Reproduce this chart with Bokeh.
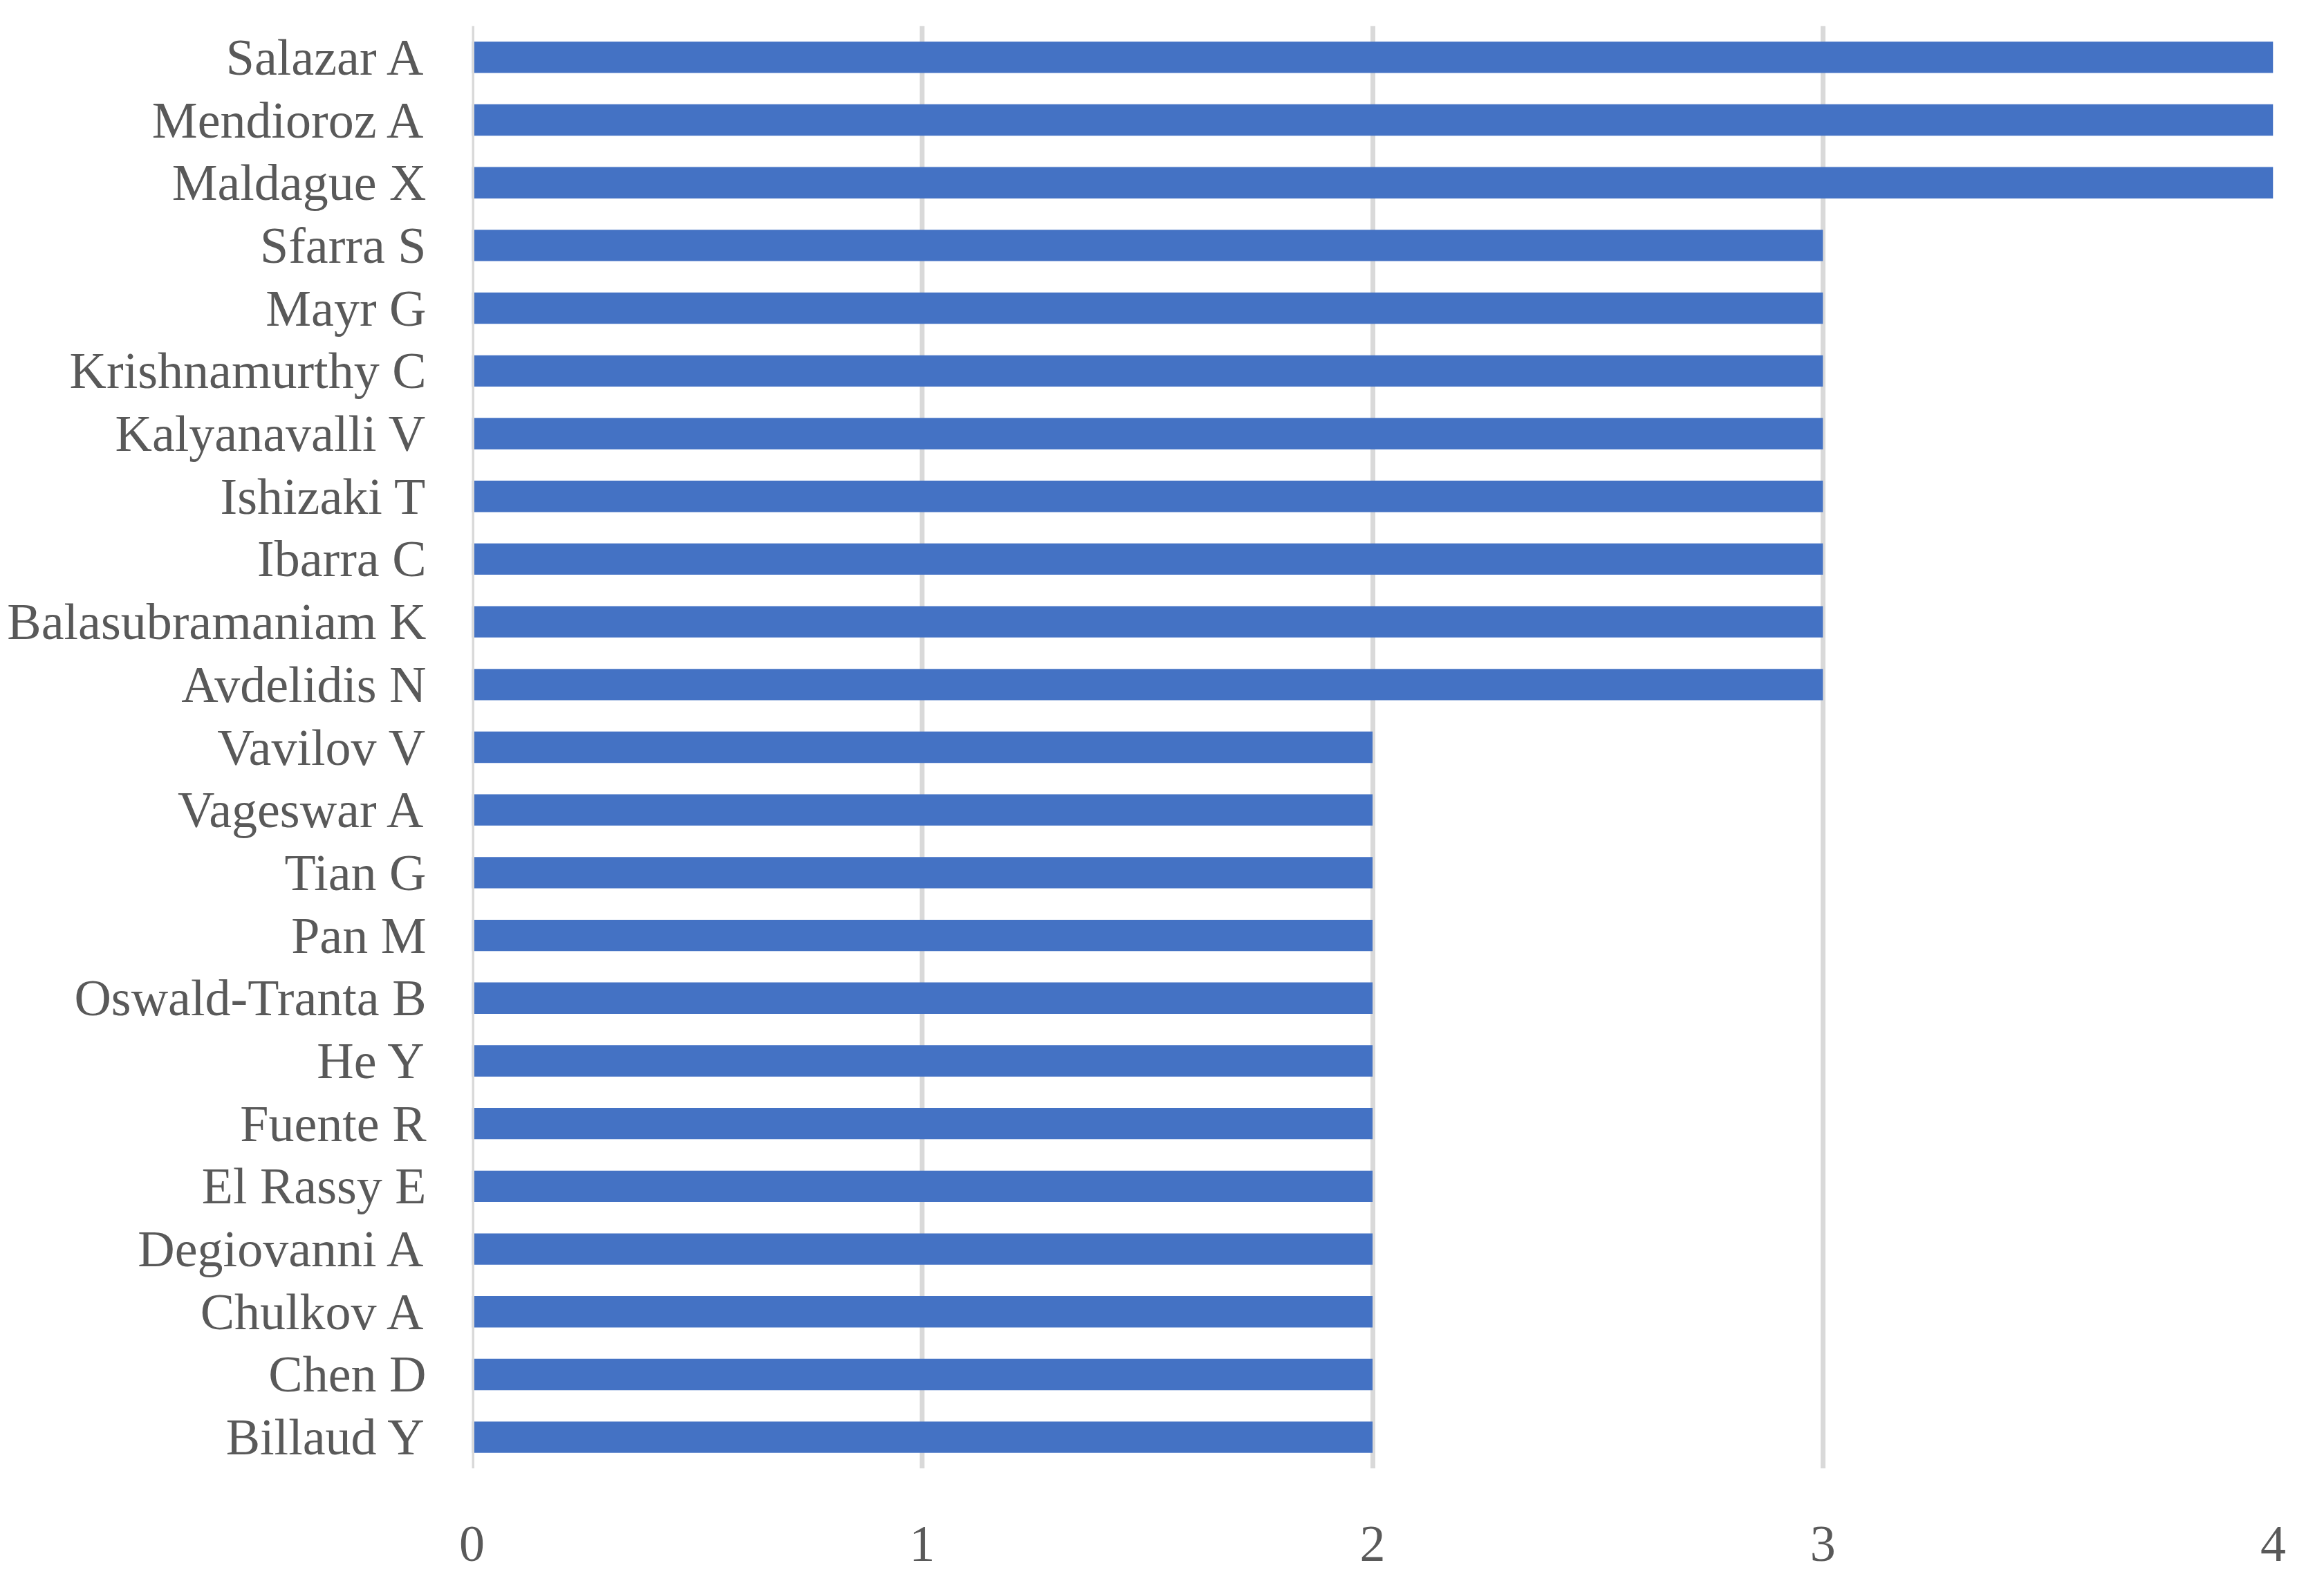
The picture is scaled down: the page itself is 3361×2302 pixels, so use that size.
from bokeh.plotting import figure
from bokeh.models import Range1d, FactorRange, FixedTicker, Span
from bokeh.embed import file_html
from bokeh.resources import INLINE

authors = ["Salazar A", "Mendioroz A", "Maldague X", "Sfarra S", "Mayr G",
           "Krishnamurthy C", "Kalyanavalli V", "Ishizaki T", "Ibarra C",
           "Balasubramaniam K", "Avdelidis N", "Vavilov V", "Vageswar A",
           "Tian G", "Pan M", "Oswald-Tranta B", "He Y", "Fuente R",
           "El Rassy E", "Degiovanni A", "Chulkov A", "Chen D", "Billaud Y"]
counts = [4, 4, 4, 3, 3, 3, 3, 3, 3, 3, 3, 2, 2, 2, 2, 2, 2, 2, 2, 2, 2, 2, 2]
x_ticks = [0, 1, 2, 3, 4]

FONT = "Liberation Serif"
TXT = "#595959"
GRID = "#d9d9d9"
BAR = "#4472C4"

factors = list(reversed(authors))

p = figure(width=3345, height=2286, output_backend="svg", toolbar_location=None,
           y_range=FactorRange(factors=factors), x_range=Range1d(0, 4),
           min_border_left=682, min_border_right=58, min_border_top=37,
           min_border_bottom=163)
p.outline_line_color = None
p.background_fill_color = "white"
p.border_fill_color = "white"

p.hbar(y=authors, right=counts, left=0, height=0.5, color=BAR, line_color=None)

p.add_layout(Span(location=0, dimension="height", line_color=GRID,
                  line_width=7, level="overlay"))

p.ygrid.grid_line_color = None
p.xgrid.grid_line_color = GRID
p.xgrid.grid_line_width = 7
p.xaxis.ticker = FixedTicker(ticks=x_ticks)

for ax in (p.xaxis, p.yaxis):
    ax.axis_line_color = None
    ax.major_tick_line_color = None
    ax.minor_tick_line_color = None
    ax.major_tick_out = 0
    ax.major_tick_in = 0
    ax.major_label_text_font = FONT
    ax.major_label_text_font_size = "74px"
    ax.major_label_text_color = TXT

p.yaxis.major_label_standoff = 66
p.xaxis.major_label_standoff = 84

open("out.html", "w").write(file_html(p, INLINE))
